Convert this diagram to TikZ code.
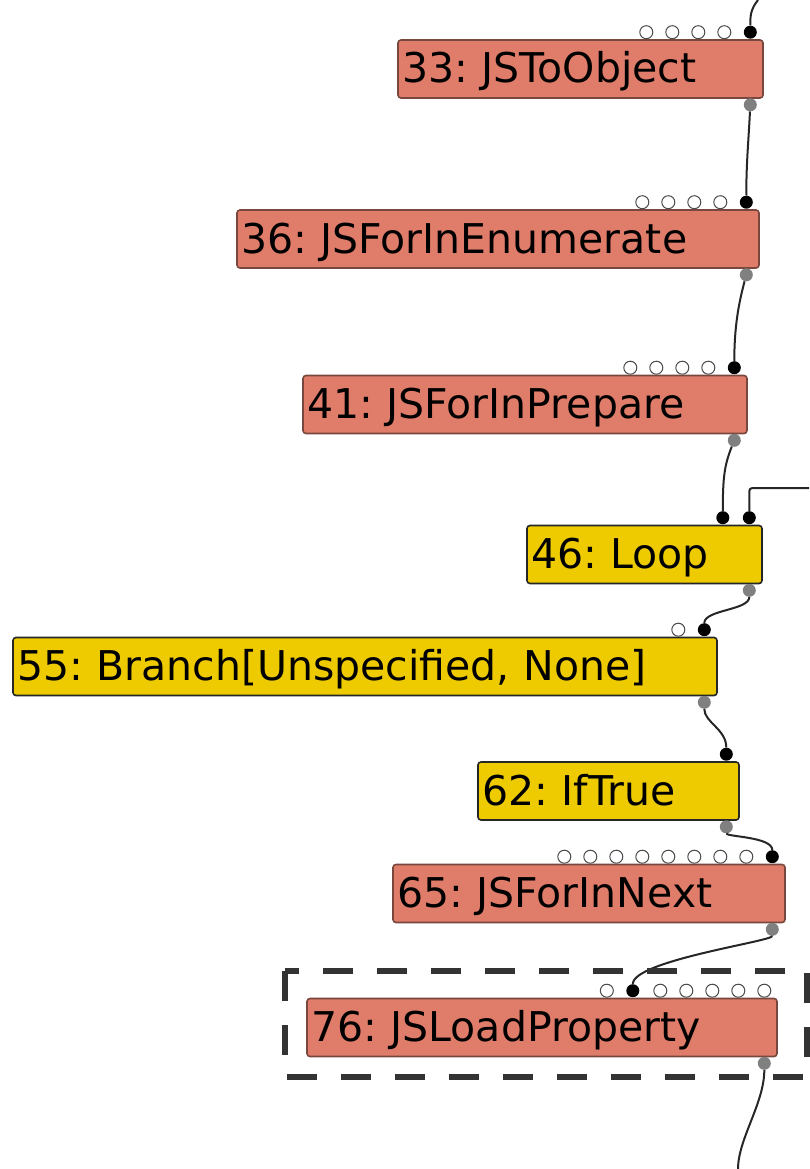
\documentclass[tikz,border=0pt]{standalone}
\usepackage{fontspec}
\newfontfamily\graphfont{DejaVu Sans}
\usetikzlibrary{positioning}
\frenchspacing

\definecolor{jsop}{RGB}{224,124,106}
\definecolor{jsopline}{RGB}{120,72,62}
\definecolor{ctrl}{RGB}{238,203,0}
\definecolor{dashgray}{RGB}{51,51,51}

\tikzset{
  opbox/.style={draw, rounded corners=3, line width=1.6, inner xsep=4, inner ysep=0,
    minimum height=58, text height=43, text depth=15, align=left,
    font=\graphfont\fontsize{41}{48}\selectfont},
  jsnode/.style={opbox, fill=jsop, draw=jsopline},
  ctrlnode/.style={opbox, fill=ctrl, draw=black!85},
  inport/.style={circle, fill=black, inner sep=0, minimum size=13},
  outport/.style={circle, fill=gray, inner sep=0, minimum size=13},
  freeport/.style={draw=black!70, fill=white, line width=1},
  wire/.style={line width=2, black!85}
}

\begin{document}
\begin{tikzpicture}[x=1pt, y=-1pt]
    \useasboundingbox (0,0) rectangle (809,1169);

    % operation nodes
    \node[jsnode, text width=357] (n33) at (580.5,69) {33: JSToObject};
    \node[jsnode, text width=514] (n36) at (498,239) {36: JSForInEnumerate};
    \node[jsnode, text width=436] (n41) at (525,404.5) {41: JSForInPrepare};
    \node[ctrlnode, text width=227] (n46) at (644.5,554.5) {46: Loop};
    \node[ctrlnode, text width=696] (n55) at (365,666.5) {55: Branch[Unspecified, None]};
    \node[ctrlnode, text width=253] (n62) at (608.5,791) {62: IfTrue};
    \node[jsnode, text width=384] (n65) at (589,893.5) {65: JSForInNext};
    \node[jsnode, text width=462] (n76) at (542,1027.5) {76: JSLoadProperty};

    % unused inputs
    \foreach \n/\k in {n33/4, n36/4, n41/4, n65/8}
        \foreach \i in {1,...,\k}
            \draw[freeport] ([xshift=-13.5-26*\i, yshift=7]\n.north east) circle (6.5);
    \draw[freeport] ([xshift=-39.5, yshift=7]n55.north east) circle (6.5);
    \draw[freeport] ([xshift=-171, yshift=7]n76.north east) circle (6.5);
    \foreach \i in {0,...,4}
        \draw[freeport] ([xshift=-13.5-26*\i, yshift=7]n76.north east) circle (6.5);

    % used inputs and outputs
    \foreach \n in {n33, n36, n41, n46, n55, n62, n65}
        \node[inport] (\n in) at ([xshift=-13.5, yshift=7]\n.north east) {};
    \node[inport] (n46in2) at ([xshift=-40, yshift=7]n46.north east) {};
    \node[inport] (n76in) at ([xshift=-145, yshift=7]n76.north east) {};
    \foreach \n in {n33, n36, n41, n46, n55, n62, n65, n76}
        \node[outport] (\n out) at ([xshift=-13.5, yshift=-6]\n.south east) {};

    \coordinate (top) at (758,0);
    \coordinate (back) at (809,488);
    \coordinate (bottom) at (738,1169);

    % edges
    \draw[wire] (top) .. controls +(-8,10) and +(0,-15) .. (n33in);
    \draw[wire] (n33out) .. controls +(-2,40) and +(0,-40) .. (n36in);
    \draw[wire] (n36out) .. controls +(-8,30) and +(0,-40) .. (n41in);
    \draw[wire] (n41out) .. controls +(-10,25) and +(0,-40) .. (n46in2);
    \draw[wire, rounded corners=3] (back) -- (n46in |- back) -- (n46in);
    \draw[wire] (n46out) .. controls +(0,20) and +(0,-20) .. (n55in);
    \draw[wire] (n55out) .. controls +(0,20) and +(0,-25) .. (n62in);
    \draw[wire] (n62out) .. controls +(0,10) and +(0,-20) .. (n65in);
    \draw[wire] (n65out) .. controls +(0,12) and +(0,-30) .. (n76in);
    \draw[wire] (n76out) .. controls +(0,40) and +(0,-30) .. (bottom);

    % selection
    \draw[dashgray, line width=6, dash pattern=on 30 off 24] (285,971) rectangle (807,1077);
\end{tikzpicture}
\end{document}
